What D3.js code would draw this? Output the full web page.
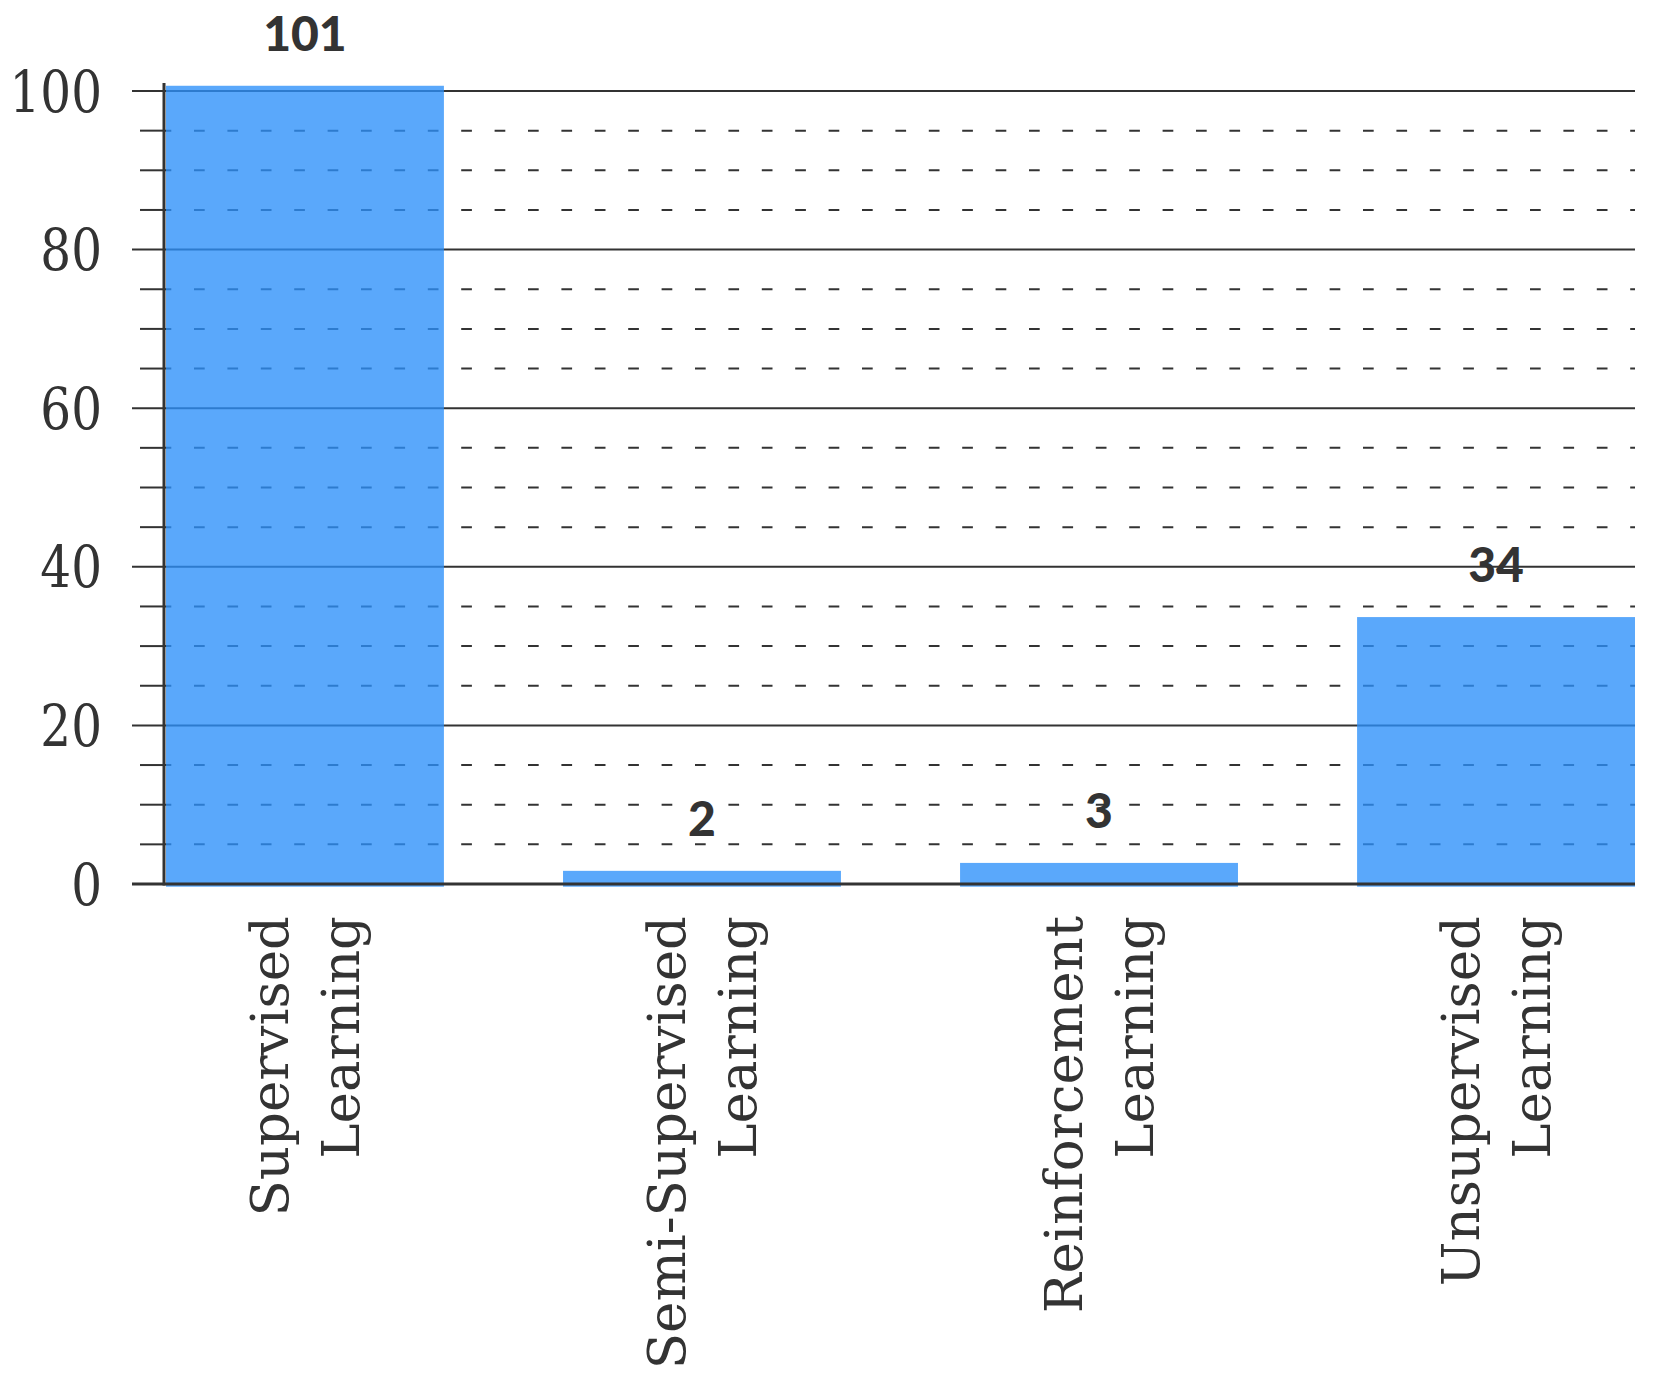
<!DOCTYPE html>
<html>
<head>
<meta charset="utf-8">
<script src="https://cdn.jsdelivr.net/npm/d3@7"></script>
<style>
  html, body { margin: 0; padding: 0; background: #fff; }
  svg { display: block; }
</style>
</head>
<body>
<svg id="chart" width="1656" height="1393"></svg>
<script>
const categories = [
  ["Supervised", "Learning"],
  ["Semi-Supervised", "Learning"],
  ["Reinforcement", "Learning"],
  ["Unsupervised", "Learning"]
];
const values = [101, 2, 3, 34];
const majorTicks = [0, 20, 40, 60, 80, 100];
const minorTicks = [5, 10, 15, 25, 30, 35, 45, 50, 55, 65, 70, 75, 85, 90, 95];

const svg = d3.select("#chart");
const ink = "#333333";
const axisX = 164;
const plotRight = 1635;

const x = d3.scaleBand()
  .domain(d3.range(values.length))
  .range([166, plotRight])
  .paddingInner(0.3)
  .paddingOuter(0);

const y = d3.scaleLinear().domain([0, 100]).range([884, 91]);

// minor ticks + dashed grid
const minorG = svg.append("g");
minorG.selectAll("line.mt").data(minorTicks).enter().append("line")
  .attr("x1", 140).attr("x2", axisX)
  .attr("y1", d => y(d)).attr("y2", d => y(d))
  .attr("stroke", ink).attr("stroke-width", 2);
minorG.selectAll("line.mg").data(minorTicks).enter().append("line")
  .attr("x1", axisX).attr("x2", plotRight)
  .attr("y1", d => y(d)).attr("y2", d => y(d))
  .attr("stroke", ink).attr("stroke-width", 2)
  .attr("stroke-dasharray", "10.7,22.7")
  .attr("stroke-dashoffset", 3.4);

// major ticks + grid
svg.append("g").selectAll("line").data(majorTicks.filter(d => d > 0)).enter().append("line")
  .attr("x1", 132).attr("x2", plotRight)
  .attr("y1", d => y(d)).attr("y2", d => y(d))
  .attr("stroke", ink).attr("stroke-width", 2);

// bars (semi-transparent over grid)
svg.append("g").selectAll("rect").data(values).enter().append("rect")
  .attr("x", (d, i) => x(i))
  .attr("width", x.bandwidth())
  .attr("y", d => y(d) + 2.7)
  .attr("height", d => y(0) - y(d))
  .attr("fill", "#2c90fa")
  .attr("fill-opacity", 0.78);

// axes lines on top
svg.append("line")
  .attr("x1", 132).attr("x2", plotRight)
  .attr("y1", y(0)).attr("y2", y(0))
  .attr("stroke", ink).attr("stroke-width", 3);
svg.append("line")
  .attr("x1", axisX).attr("x2", axisX)
  .attr("y1", 83).attr("y2", y(0) + 1.5)
  .attr("stroke", ink).attr("stroke-width", 3);

// y tick labels
svg.append("g").selectAll("text").data(majorTicks).enter().append("text")
  .attr("transform", d => `translate(102,${y(d)}) scale(0.85,1)`)
  .attr("dy", "0.36em")
  .attr("text-anchor", "end")
  .attr("font-family", "'DejaVu Serif', serif")
  .attr("font-size", 57)
  .attr("fill", ink)
  .text(d => d);

// value labels
svg.append("g").selectAll("text").data(values).enter().append("text")
  .attr("x", (d, i) => x(i) + x.bandwidth() / 2)
  .attr("y", d => y(d) + 2.7 - 35)
  .attr("text-anchor", "middle")
  .attr("font-family", "Lato, sans-serif")
  .attr("font-weight", 900)
  .attr("font-size", 48)
  .attr("fill", ink)
  .text(d => d);

// category labels (rotated)
const catG = svg.append("g");
categories.forEach((lines, i) => {
  const cx = x(i) + x.bandwidth() / 2;
  const offs = [-17, 54];
  lines.forEach((ln, j) => {
    catG.append("text")
      .attr("transform", `translate(${cx + offs[j]},916) rotate(-90)`)
      .attr("text-anchor", "end")
      .attr("font-family", "'DejaVu Serif', serif")
      .attr("font-size", 53)
      .attr("fill", ink)
      .text(ln);
  });
});
</script>
</body>
</html>
